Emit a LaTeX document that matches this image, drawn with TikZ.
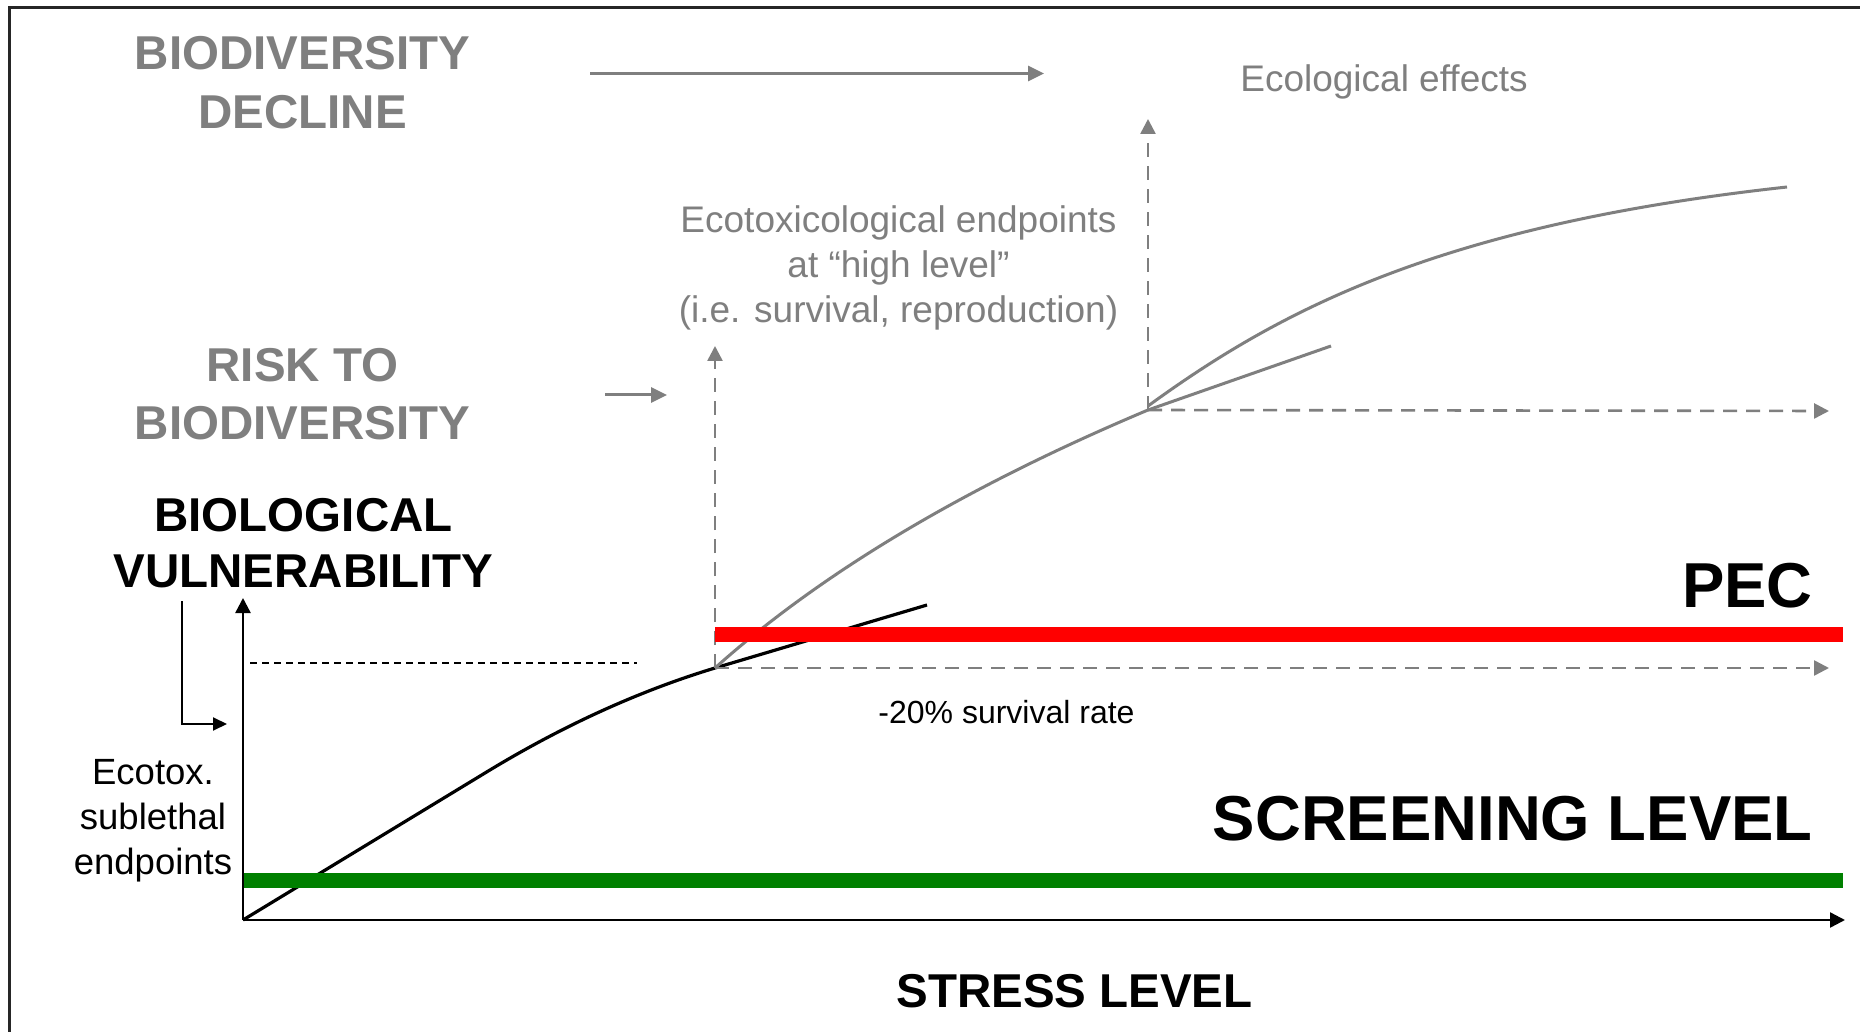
\documentclass[tikz,border=0pt]{standalone}
\usepackage{fontspec}
\setmainfont{Liberation Sans}
\usetikzlibrary{arrows.meta}
\definecolor{midgrey}{HTML}{7F7F7F}
\definecolor{pecred}{HTML}{FF0000}
\definecolor{scrgreen}{HTML}{008000}

\begin{document}
\begin{tikzpicture}[x=0.5pt,y=-0.5pt,
  lbl/.style={inner sep=0pt, anchor=base},
  headgrey/.style={lbl, text=midgrey, font=\fontsize{23.75}{28}\selectfont\bfseries},
  headblack/.style={lbl, text=black, font=\fontsize{23.75}{28}\selectfont\bfseries},
  levellabel/.style={inner sep=0pt, anchor=base east, text=black, font=\fontsize{31.75}{36}\selectfont\bfseries},
  notegrey/.style={lbl, text=midgrey, font=\fontsize{18.5}{22}\selectfont},
  noteblack/.style={lbl, text=black, font=\fontsize{18.25}{22}\selectfont},
  greytip/.style={-{Triangle[length=8pt,width=7.5pt]}},
  greyarrow/.style={draw=midgrey, line width=1.5pt, greytip},
  greydash/.style={draw=midgrey, line width=1.3pt, dash pattern=on 7pt off 4.5pt, -{Triangle[length=7.5pt,width=7.5pt]}},
  blackdash/.style={draw=black, line width=1pt, dash pattern=on 3.5pt off 2.5pt},
  greycurve/.style={draw=midgrey, line width=1.5pt},
  blackcurve/.style={draw=black, line width=1.6pt},
  axis/.style={draw=black, line width=1.2pt, -{Triangle[length=7.5pt,width=7.5pt]}},
  levelbar/.style={line width=7.5pt}
]
\useasboundingbox (0,0) rectangle (1860,1032);
\fill[white] (0,0) rectangle (1860,1032);

% frame (top and left edges)
\draw[line width=1.5pt, black!85] (9,1032) -- (9,8) -- (1860,8);

% key points
\coordinate (O) at (243,920);
\coordinate (Ytop) at (243,598);
\coordinate (Xend) at (1845,920);
\coordinate (P1) at (715,668);
\coordinate (P2) at (1148,410);

% response curves
\coordinate (Bend) at (485,773);
\draw[blackcurve] (O) -- (Bend) .. controls (562,726) and (639,691) .. (P1);
\coordinate (T1) at (927,605);
\draw[blackcurve] (P1) -- (T1);

\draw[greycurve] (P1) .. controls (821,573) and (965,487) .. (P2);
\coordinate (T2) at (1331,346);
\draw[greycurve] (P2) -- (T2);

\coordinate (P2top) at (1148,406);
\coordinate (Cend) at (1787,187);
\draw[greycurve] (P2top) .. controls (1280,310) and (1440,225) .. (Cend);

% thresholds reached along the curves
\coordinate (P1up) at (715,346);
\coordinate (P1right) at (1829,668);
\coordinate (P2up) at (1148,119);
\coordinate (P2right) at (1829,411);
\draw[greydash] (P1) -- (P1up);
\draw[greydash] (P1) -- (P1right);
\draw[greydash] (P2) -- (P2up);
\draw[greydash] (P2) -- (P2right);

\coordinate (DashL) at (250,663);
\coordinate (DashR) at (637,663);
\draw[blackdash] (DashL) -- (DashR);

% PEC and screening level bars
\coordinate (PecL) at (715,634.5);
\coordinate (PecR) at (1843,634.5);
\draw[levelbar, pecred] (PecL) -- (PecR);
\coordinate (ScrL) at (243,880);
\coordinate (ScrR) at (1843,880);
\draw[levelbar, scrgreen] (ScrL) -- (ScrR);

% axes
\draw[axis] (O) -- (Ytop);
\draw[axis] (O) -- (Xend);

% arrows between levels
\coordinate (DecA) at (590,73.5);
\coordinate (DecB) at (1044,73.5);
\draw[greyarrow] (DecA) -- (DecB);
\coordinate (RiskA) at (605,395);
\coordinate (RiskB) at (667,395);
\draw[greyarrow] (RiskA) -- (RiskB);

\coordinate (BentA) at (182,601);
\coordinate (BentC) at (182,724);
\coordinate (BentB) at (227,724);
\draw[black, line width=1pt, -{Triangle[length=7pt,width=6.5pt]}] (BentA) -- (BentC) -- (BentB);

% labels
\node[headgrey] (declA) at (302.5,70) {BIODIVERSITY};
\node[headgrey] (declB) at (302.5,128.5) {DECLINE};
\node[headgrey] (riskA) at (302.5,382) {RISK TO};
\node[headgrey] (riskB) at (302.5,440) {BIODIVERSITY};
\node[headblack] (vulnA) at (303.5,531) {BIOLOGICAL};
\node[headblack] (vulnB) at (303.5,588) {VULNERABILITY};

\node[notegrey] (ecoeff) at (1384,92) {Ecological effects};
\node[notegrey] (hiA) at (898.5,233) {Ecotoxicological endpoints};
\node[notegrey] (hiB) at (898.5,278) {at “high level”};
\node[notegrey] (hiC) at (898.5,323) {(i.e. survival, reproduction)};

\node[lbl, font=\fontsize{16}{19}\selectfont] (surv) at (1006.5,723) {-20\% survival rate};

\node[levellabel] (pec) at (1813,607) {PEC};
\node[levellabel] (screen) at (1813,840) {SCREENING LEVEL};

\node[noteblack] (subA) at (153,784) {Ecotox.};
\node[noteblack] (subB) at (153,829) {sublethal};
\node[noteblack] (subC) at (153,874) {endpoints};

\node[headblack] (stress) at (1074.5,1007) {STRESS LEVEL};
\end{tikzpicture}
\end{document}
